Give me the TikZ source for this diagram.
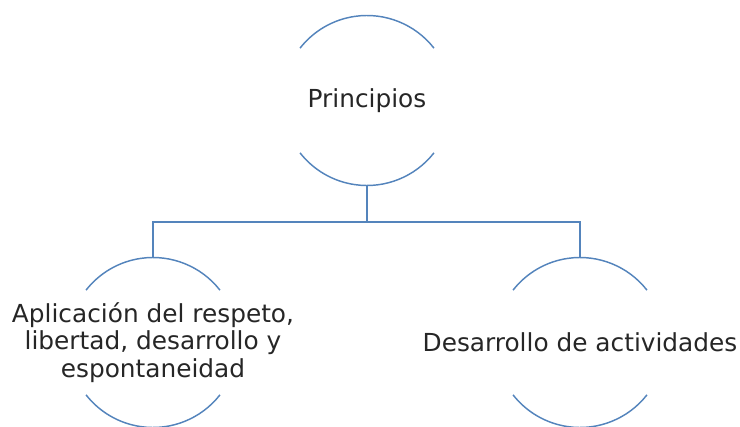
\documentclass[tikz,border=0pt]{standalone}
\usepackage{fontspec}
\setmainfont{DejaVu Sans}
\definecolor{ringblue}{RGB}{84,132,188}
\tikzset{
  ring/.style={circle, minimum size=127.5pt, inner sep=0pt, outer sep=0pt},
  rtext/.style={align=center, font=\fontsize{18.6}{20.6}\selectfont, text=black!85},
  arcline/.style={draw=ringblue, line width=1.1pt},
  link/.style={draw=ringblue, line width=1.4pt}
}
\begin{document}
\begin{tikzpicture}[x=0.75pt,y=0.75pt]
    \useasboundingbox (0,0) rectangle (740,426);
    % rings
    \node[ring] (princ) at (367,325.5) {};
    \node[ring] (apli) at (153,83.5) {};
    \node[ring] (desa) at (580,83.5) {};
    \foreach \c in {princ,apli,desa} {
        \draw[arcline] (\c.38) arc[start angle=38, end angle=142, radius=85];
        \draw[arcline] (\c.-38) arc[start angle=-38, end angle=-142, radius=85];
    }
    % texts
    \node[rtext] (princT) at (princ) {Principios};
    \node[rtext] (apliT) at (apli) {Aplicación del respeto,\\libertad, desarrollo y\\espontaneidad};
    \node[rtext] (desaT) at (desa) {Desarrollo de actividades};
    % links
    \coordinate (split) at (367,204);
    \draw[link] (princ.south) -- (split);
    \draw[link] (split) -| (apli.north);
    \draw[link] (split) -| (desa.north);
\end{tikzpicture}
\end{document}
